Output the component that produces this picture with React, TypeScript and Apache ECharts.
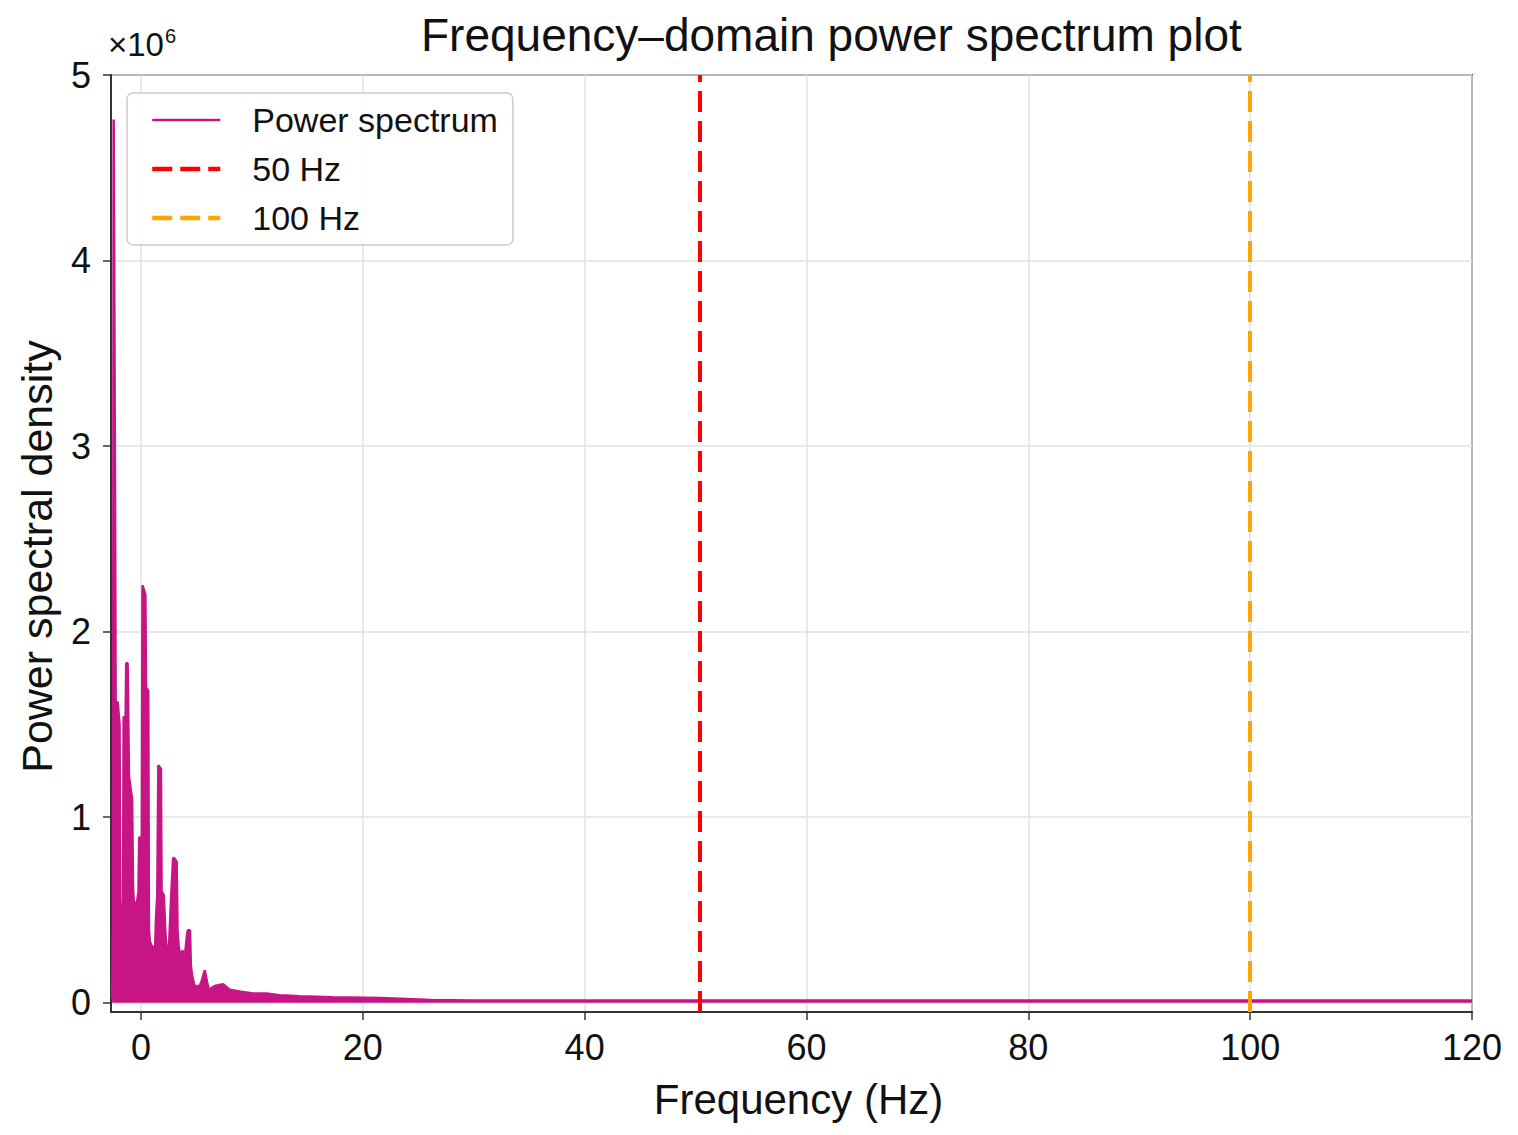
import { useEffect, useRef } from "react";
import * as echarts from "echarts";

// envelope of the spectrum (power in units of 1e6)
const freqHz = [
  -2.6, -2.52, -2.46, -2.4, -2.33, -2.28, -2.1, -1.93, -1.87, -1.62, -1.56,
  -1.38, -1.33, -1.2, -1.08, -0.9, -0.8, -0.71, -0.65, -0.4, -0.22, -0.16,
  0.08, 0.14, 0.2, 0.4, 0.46, 0.66, 0.72, 0.8, 1.0, 1.28, 1.36, 1.47, 1.57,
  1.62, 1.8, 1.86, 2.06, 2.19, 2.37, 2.55, 2.73, 2.9, 2.98, 3.22, 3.3, 3.4,
  3.56, 3.74, 3.98, 4.14, 4.22, 4.42, 4.5, 4.6, 4.82, 5.3, 5.5, 5.75, 6.0,
  6.14, 6.65, 7.4, 8.0, 8.9, 10.1, 11.3, 12.5, 14.3, 17.3, 21.7, 26.2, 30,
  40, 60, 80, 100, 120,
];
const psd = [
  0.02, 0.45, 4.76, 4.76, 2.6, 1.62, 1.62, 1.5, 0.53, 0.53, 1.54, 1.54,
  1.83, 1.83, 1.22, 1.14, 1.1, 0.62, 0.55, 0.52, 0.6, 0.89, 0.89, 2.25,
  2.25, 2.2, 1.7, 1.68, 0.4, 0.33, 0.3, 0.3, 0.46, 0.58, 1.28, 1.28, 1.26,
  0.6, 0.58, 0.39, 0.23, 0.33, 0.58, 0.78, 0.78, 0.76, 0.39, 0.3, 0.25,
  0.28, 0.26, 0.36, 0.39, 0.39, 0.2, 0.15, 0.09, 0.09, 0.12, 0.175, 0.1,
  0.07, 0.09, 0.1, 0.07, 0.06, 0.05, 0.05, 0.04, 0.035, 0.03, 0.025, 0.015,
  0.012, 0.012, 0.012, 0.012, 0.012, 0.012,
];

const xTicks = [0, 20, 40, 60, 80, 100, 120];
const yTicks = [0, 1, 2, 3, 4, 5];
// the red marker sits slightly right of 50 in the picture
const refLines = [
  { name: "50 Hz", freq: 50.4, color: "#ff0000" },
  { name: "100 Hz", freq: 100, color: "#ffa500" },
];

const FONT = "'Liberation Sans', Arial, sans-serif";
const SPECTRUM_COLOR = "#c71585";
const DASH = [21, 9];

export default function App() {
  const chartRef = useRef<HTMLDivElement>(null);

  useEffect(() => {
    const chart = echarts.init(chartRef.current!, null, { renderer: "svg" });

    const axisCommon = {
      axisLine: {
        show: true,
        onZero: false,
        lineStyle: { color: "#333", width: 2 },
      },
      axisTick: {
        show: true,
        inside: false,
        length: 8,
        lineStyle: { color: "#333", width: 1.5 },
      },
      splitLine: { show: true, lineStyle: { color: "#e3e3e3", width: 1.5 } },
    };

    const hiddenSymbol = {
      color: "transparent",
      borderColor: "transparent",
      borderWidth: 0,
      opacity: 0,
    };

    const option = {
      animation: false,
      backgroundColor: "#fff",
      title: {
        text: "Frequency\u2013domain power spectrum plot",
        left: 416,
        top: 7,
        textStyle: {
          fontFamily: FONT,
          fontSize: 46,
          fontWeight: "normal",
          color: "#111",
        },
      },
      grid: {
        left: 111,
        right: 46,
        top: 75,
        bottom: 123,
        show: true,
        borderColor: "#333",
        borderWidth: 2,
        backgroundColor: "transparent",
      },
      legend: {
        orient: "vertical",
        left: 127,
        top: 93,
        padding: [7, 15, 7, 23],
        itemGap: 9,
        itemWidth: 68,
        itemHeight: 14,
        backgroundColor: "rgba(255,255,255,0.85)",
        borderColor: "#cccccc",
        borderWidth: 1.5,
        borderRadius: 6,
        itemStyle: hiddenSymbol,
        textStyle: {
          fontFamily: FONT,
          fontSize: 34,
          lineHeight: 40,
          color: "#111",
          padding: [0, 0, 0, 27],
        },
        data: [
          {
            name: "Power spectrum",
            itemStyle: hiddenSymbol,
            lineStyle: { color: SPECTRUM_COLOR, width: 2.5 },
          },
          ...refLines.map((r) => ({
            name: r.name,
            itemStyle: hiddenSymbol,
            lineStyle: { color: r.color, width: 4.5, type: [20, 8] },
          })),
        ],
      },
      xAxis: {
        type: "value",
        min: -2.7,
        max: 120,
        name: "Frequency (Hz)",
        nameLocation: "middle",
        nameGap: 66,
        nameTextStyle: {
          fontFamily: FONT,
          fontSize: 42,
          color: "#111",
          padding: [0, 0, 0, 14],
        },
        ...axisCommon,
        axisTick: { ...axisCommon.axisTick, customValues: xTicks },
        axisLabel: {
          customValues: xTicks,
          fontFamily: FONT,
          fontSize: 36,
          color: "#111",
          margin: 17,
        },
      },
      yAxis: {
        type: "value",
        min: -0.05,
        max: 5,
        name: "Power spectral density",
        nameLocation: "middle",
        nameGap: 53,
        nameTextStyle: {
          fontFamily: FONT,
          fontSize: 43,
          color: "#111",
          padding: [0, 26, 0, 0],
        },
        ...axisCommon,
        axisTick: { ...axisCommon.axisTick, customValues: yTicks },
        axisLabel: {
          customValues: yTicks,
          fontFamily: FONT,
          fontSize: 36,
          color: "#111",
          margin: 20,
        },
      },
      series: [
        {
          name: "Power spectrum",
          type: "line",
          symbol: "none",
          smooth: false,
          data: freqHz.map((f, i) => [f, psd[i]]),
          lineStyle: { color: SPECTRUM_COLOR, width: 2.5 },
          itemStyle: { color: SPECTRUM_COLOR },
          areaStyle: { color: SPECTRUM_COLOR, opacity: 1 },
          z: 3,
        },
        ...refLines.map((r) => ({
          name: r.name,
          type: "line",
          symbol: "none",
          data: [],
          lineStyle: { color: r.color, width: 4, type: DASH },
          itemStyle: { color: r.color },
          markLine: {
            silent: true,
            symbol: ["none", "none"],
            label: { show: false },
            lineStyle: { color: r.color, width: 4, type: DASH },
            data: [{ xAxis: r.freq }],
          },
          z: 4,
        })),
      ],
      graphic: [
        {
          type: "text",
          left: 108,
          top: 26,
          style: {
            text: "\u00d710{sup|6}",
            font: `33px ${FONT}`,
            fill: "#111",
            rich: {
              sup: {
                fontFamily: FONT,
                fontSize: 20,
                fill: "#111",
                verticalAlign: "top",
                padding: [0, 0, 16, 1],
              },
            },
          },
        },
      ],
    };

    chart.setOption(option);

    return () => {
      chart.dispose();
    };
  }, []);

  return (
    <div
      ref={chartRef}
      style={{
        position: "fixed",
        left: 0,
        top: 0,
        width: "1518px",
        height: "1135px",
      }}
    />
  );
}
